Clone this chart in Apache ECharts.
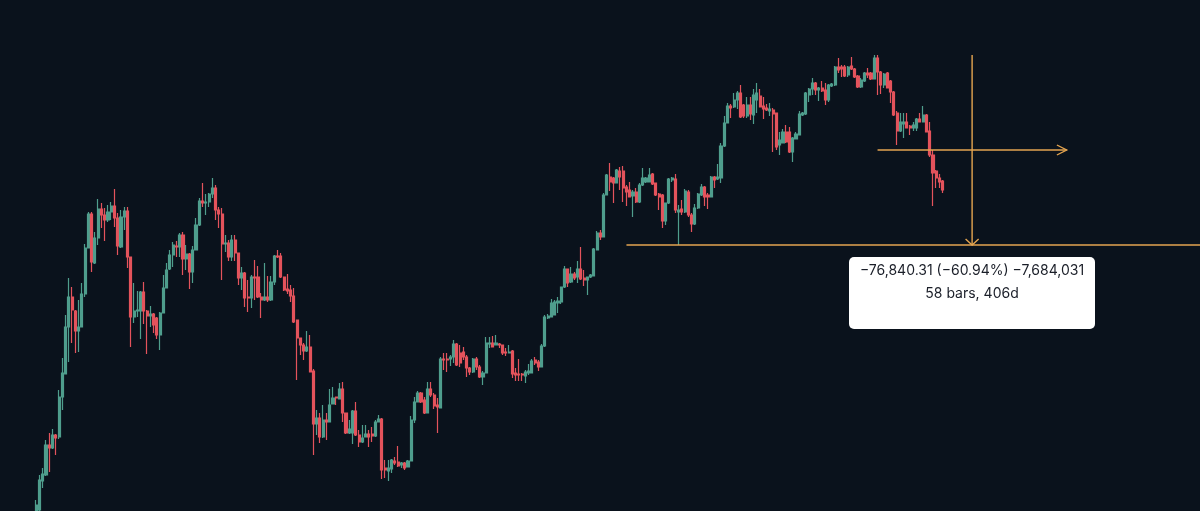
<!DOCTYPE html>
<html>
<head>
<meta charset="utf-8">
<style>
  html, body { margin: 0; padding: 0; background: #0a121c; overflow: hidden; }
  #chart1 { width: 1202px; height: 511px; }
</style>
<script src="https://cdn.jsdelivr.net/npm/echarts@6/dist/echarts.min.js"></script>
</head>
<body>
<div id="chart1"></div>
<script>
// weekly candles, price is on a hidden 0-511 scale because the picture has no axis labels
const opens = [
  -4,1,30,36,66,63,76,74,114,137,
  184,214,200,180,184,217,263,297,248,273,
  302,296,291,299,305,293,264,294,300,254,
  194,200,200,219,200,195,197,193,176,198,
  223,242,256,265,264,276,252,257,239,261,
  286,310,308,309,317,323,301,297,267,268,
  254,271,258,233,238,214,213,234,234,214,
  211,214,211,229,255,255,234,222,221,215,
  191,173,166,160,164,140,87,93,74,91,
  89,107,114,112,122,98,78,78,100,76,
  69,74,77,77,75,89,92,43,40,42,
  50,49,46,48,44,50,91,109,118,111,
  98,122,116,106,103,152,152,152,154,167,
  158,159,154,143,139,152,144,134,138,167,
  168,166,167,166,159,158,160,138,137,137,
  135,138,138,151,149,144,165,193,194,196,
  208,209,224,242,229,237,234,242,233,231,
  234,235,261,278,274,316,334,333,328,340,
  340,324,321,315,319,309,326,329,329,337,
  328,317,316,290,308,331,332,299,302,299,
  319,296,287,303,316,324,316,314,334,332,
  333,365,388,405,404,411,418,406,395,406,
  396,411,415,405,403,400,401,398,366,368,
  379,379,359,372,376,396,397,416,422,428,
  421,423,421,411,425,426,444,444,444,436,
  445,442,435,424,430,438,438,432,453,439,
  426,438,430,419,398,380,387,389,385,383,
  383,392,389,396,380,356,340,333,330
];
const closes = [
  6,31,37,66,63,76,73,114,138,184,
  214,201,180,184,217,263,297,249,273,302,
  296,291,299,305,293,265,294,300,254,194,
  200,201,219,200,195,197,186,176,198,223,
  241,256,266,264,276,252,257,239,261,286,
  310,308,309,317,323,301,297,267,268,254,
  271,258,233,238,213,213,234,233,214,211,
  214,211,229,255,254,234,221,220,215,189,
  173,166,160,164,139,87,93,74,91,89,
  106,113,113,122,98,78,82,100,76,69,
  73,77,74,75,89,92,41,41,43,51,
  48,45,48,43,50,91,109,118,109,98,
  122,116,105,104,152,151,151,154,167,146,
  148,154,143,139,152,144,134,138,168,168,
  164,168,166,158,158,159,137,136,136,136,
  139,140,150,148,144,165,194,195,208,209,
  210,224,242,228,237,233,242,232,231,234,
  236,262,278,274,316,336,329,328,341,334,
  323,319,314,319,309,326,333,333,336,327,
  316,314,290,308,332,333,301,301,299,320,
  296,287,303,317,324,314,314,334,331,334,
  365,388,405,403,411,418,394,395,406,397,
  416,418,404,402,401,402,397,364,371,379,
  369,359,373,377,397,398,418,422,428,421,
  423,420,411,426,427,444,441,442,435,444,
  442,434,424,431,438,436,432,453,439,426,
  437,423,419,396,380,389,389,383,383,386,
  392,389,396,379,356,338,333,329,321
];
const lows = [
  -4,0,23,35,39,62,56,72,101,137,
  149,168,158,159,184,214,263,239,247,266,
  283,270,289,291,284,256,263,281,243,164,
  188,194,172,187,157,184,178,172,161,198,
  223,241,244,254,254,236,241,222,228,261,
  285,304,296,304,313,291,283,231,259,250,
  250,250,226,221,204,199,203,211,213,193,
  210,209,210,226,253,233,220,217,209,188,
  131,156,151,159,139,56,76,68,73,71,
  89,107,106,112,89,77,77,67,75,64,
  68,74,64,69,74,89,32,33,30,38,
  46,44,43,41,44,50,88,109,108,97,
  98,114,102,78,103,141,139,145,148,145,
  144,151,134,136,138,141,133,126,138,163,
  164,166,163,156,155,158,133,130,130,130,
  128,136,138,146,140,144,164,192,194,196,
  198,207,223,224,228,231,228,231,225,216,
  233,235,261,271,274,316,320,308,328,321,
  309,305,314,294,308,308,325,328,329,326,
  315,301,283,286,307,329,298,266,296,298,
  294,279,286,302,315,305,302,314,323,331,
  328,364,388,393,403,402,393,393,393,391,
  387,398,404,392,400,395,359,361,356,368,
  368,358,349,372,376,395,396,409,416,416,
  410,419,406,409,424,425,438,434,434,434,
  441,433,423,423,429,433,431,432,416,417,
  423,423,408,395,366,379,373,383,376,380,
  380,389,389,379,354,305,323,323,318
];
const highs = [
  11,36,43,71,78,82,77,121,153,196,
  233,224,201,211,228,267,299,299,279,312,
  308,303,306,309,322,298,301,304,304,254,
  228,220,220,229,201,205,198,194,199,236,
  248,261,269,270,278,279,266,258,265,293,
  313,328,317,318,333,326,304,303,276,271,
  276,276,258,244,239,231,236,251,245,218,
  248,235,235,256,261,258,234,237,226,223,
  191,173,168,180,176,142,101,98,106,98,
  122,124,114,128,129,98,91,101,109,81,
  86,86,81,84,91,96,93,51,51,52,
  54,65,49,49,51,95,114,120,119,114,
  129,129,118,113,154,158,158,156,171,168,
  166,164,156,144,153,154,146,140,174,174,
  175,176,168,166,163,166,161,143,152,138,
  141,147,152,154,151,167,196,197,212,211,
  214,224,245,242,244,239,250,264,241,234,
  237,263,280,281,318,337,348,334,342,344,
  345,326,329,321,323,328,343,334,343,338,
  328,318,317,308,333,334,337,306,311,322,
  321,298,307,318,327,325,318,335,335,347,
  368,395,408,407,418,420,426,407,414,414,
  422,428,422,414,407,408,403,398,379,382,
  386,384,374,379,400,399,419,423,433,429,
  424,430,428,427,428,445,453,446,446,445,
  454,443,436,433,439,443,439,456,456,440,
  438,439,431,420,400,398,398,398,386,389,
  393,398,405,397,389,361,341,337,331
];

// the chart starts a few weeks in and leaves empty weeks on the right for the drawing
const leadingBlanks = 10;
const weekCount = 368;
const categories = Array.from({ length: weekCount }, (_, i) => `W${i}`);

// measure tool, [week index, price]
const measureLines = [
  [[191, 266], [367, 266]],
  [[268, 361], [326, 361]],
  [[297, 456], [297, 266]],
  [[323, 366], [326, 361], [323, 356]],
  [[295, 272], [297, 266], [299, 272]]
];
const measureLabel = ['−76,840.31 (−60.94%) −7,684,031', '58 bars, 406d'];

const blanks = Array.from({ length: leadingBlanks }, () => ['-', '-', '-', '-']);
const candles = blanks.concat(opens.map((o, i) => [o, closes[i], lows[i], highs[i]]));

const chart1 = echarts.init(document.getElementById('chart1'));

const option = {
  backgroundColor: '#0a121c',
  animation: false,
  grid: { left: 2, top: 0, right: 0, bottom: 0 },
  xAxis: {
    type: 'category',
    data: categories,
    show: false
  },
  yAxis: {
    type: 'value',
    min: 0,
    max: 511,
    show: false
  },
  series: [
    {
      type: 'candlestick',
      data: candles,
      barWidth: 2.6,
      itemStyle: {
        color: '#4f9e8d',
        color0: '#e4535c',
        borderColor: '#4f9e8d',
        borderColor0: '#e4535c',
        borderWidth: 1.2
      }
    },
    {
      type: 'custom',
      coordinateSystem: 'cartesian2d',
      clip: false,
      z: 5,
      data: measureLines.map((_, i) => [i]),
      renderItem: (params, api) => ({
        type: 'polyline',
        shape: { points: measureLines[params.dataIndex].map(p => api.coord(p)) },
        style: { fill: null, stroke: '#e5a550', lineWidth: 1.4 }
      })
    }
  ],
  graphic: [
    {
      type: 'group',
      left: 849,
      top: 257,
      z: 10,
      children: [
        {
          type: 'rect',
          shape: { width: 246, height: 72, r: 5 },
          style: { fill: '#ffffff' }
        },
        {
          type: 'text',
          x: 123,
          y: 13.5,
          style: {
            text: measureLabel[0],
            fill: '#1a1e28',
            font: '14px Inter',
            align: 'center',
            verticalAlign: 'middle'
          }
        },
        {
          type: 'text',
          x: 123,
          y: 36.5,
          style: {
            text: measureLabel[1],
            fill: '#1a1e28',
            font: '14px Inter',
            align: 'center',
            verticalAlign: 'middle'
          }
        }
      ]
    }
  ]
};

chart1.setOption(option);
</script>
</body>
</html>
